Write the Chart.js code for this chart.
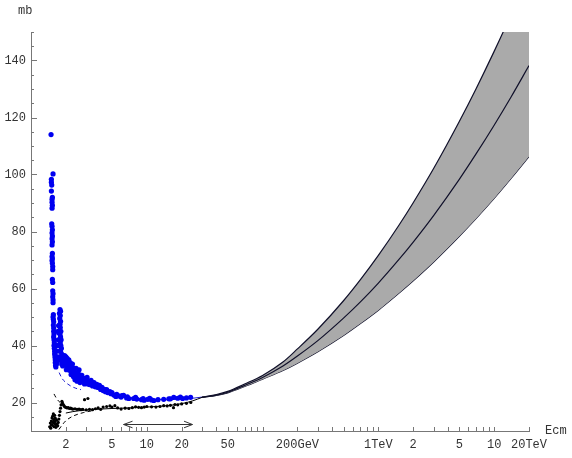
<!DOCTYPE html>
<html><head><meta charset="utf-8">
<script src="https://cdn.jsdelivr.net/npm/chart.js@4.4.1/dist/chart.umd.min.js"></script>
<style>html,body{margin:0;padding:0;background:#fff;}</style>
</head><body>
<canvas id="c" width="572" height="458"></canvas>
<script>
// ---- axis ticks ----
const xTickValues = [1,2,3,4,5,6,7,8,9,10,20,30,40,50,60,70,80,90,100,200,300,400,500,600,700,800,900,1000,2000,3000,4000,5000,6000,7000,8000,9000,10000,20000];
const xLabelValues = [2,5,10,20,50,200,1000,2000,5000,10000,20000];
const xLabelTexts  = ['2','5','10','20','50','200GeV','1TeV','2','5','10','20TeV'];
const yLabelValues = [20,40,60,80,100,120,140];

// ---- p̄p total cross-section data (GeV, mb) ----
const pbarpEnergy = [1.49,1.55,1.50,1.50,1.51,1.50,1.53,1.52,1.52,1.53,1.52,1.51,1.52,1.53,1.52,1.53,1.52,1.53,1.52,1.53,1.52,1.53,1.52,1.53,1.54,1.54,1.53,1.54,1.54,1.55,1.54,1.55,1.55,1.56,1.55,1.56,1.57,1.56,1.57,1.57,1.58,1.57,1.58,1.59,1.58,1.59,1.60,1.60,1.61,1.62,1.62,1.63,1.64,
  1.78,1.80,1.76,1.79,1.77,1.80,1.78,1.79,1.81,1.78,1.80,1.82,1.79,1.81,1.83,1.80,1.84,1.82,1.85,1.87,1.74,1.72,1.70,1.68,1.70,1.69,1.66,1.72,
  1.90,1.93,1.96,2.00,2.03,2.06,2.08,2.10,2.15,2.20,2.25,2.30,2.35,2.40,2.45,2.50,2.55,2.60,2.70,2.80,2.90,3.00,3.10,3.20,3.40,3.60,3.80,4.00,4.20,4.40,4.60,4.90,5.20,5.40,5.70,6.00,6.30,6.70,7.00,7.70,8.20,9.00,9.50,10.2,11.0,11.5,12.5,14.0,15.5,17.1,18.5,20.4,22.0,23.9,
  2.05,2.12,2.18,2.28,2.22,2.33,2.45,2.60,2.75,2.90,3.05,3.30,2.50,2.65,2.40,3.50,3.90,
  1.95,2.00,2.02,2.10,2.15,2.20,2.30,2.35,2.40,2.50,2.55,2.60,2.70,2.80,2.95,3.00,3.15,3.25,3.40,3.70,4.10,4.30,4.50,4.80,5.00,5.50,6.10,6.80,8.00,9.30,10.6,16.0,19.5,1.84,1.88,1.65,1.67,1.71,1.73];
const pbarpSigma = [114,100.2,98.3,97.3,96.3,94.2,92,91.3,90.3,89.2,88.2,82.7,81.8,80.6,79.5,78.4,77.5,76.4,75.3,72.3,71.2,70.5,69.8,68.9,67.7,66.6,63.2,62.1,59.2,58.2,57.1,56,55,50.8,50,49.2,48.3,47.2,46.1,45,44,43,42,41,40,39,38,37,36,35,34,33,32.5,
  52.6,52,51.3,50.5,49.5,48.5,47.5,46.3,45,44,43,42,41,40,39,38,37,36,35,34,44.5,42,40,38,36,34.5,33.5,35,
  35,34.5,33.8,34.4,33,32.5,33.3,32,31.3,31.6,30.5,30.8,30,30.5,29.6,29,28.5,28.8,28.1,27.6,28.4,27,26.5,26.3,25.8,25.5,25.3,24.6,24.2,23.8,23.5,23.1,22.6,22.1,22.3,21.9,22.5,21.6,21.4,21.4,21.2,21.0,20.8,21.1,20.9,20.7,21.0,21.1,21.3,21.8,21.5,21.4,21.6,21.8,
  35.5,35,34,33.5,29.8,29,32,31.5,29.5,26.5,28.8,27.8,27.5,27,28,27,26,
  36.5,36,31.5,34.5,33.2,32.8,32.2,31.2,29.2,30.2,30.5,29.6,29.5,28.6,27.8,28.2,27.2,26.4,27.0,26.4,25.3,24.6,24.5,23.8,23.5,22.9,22.4,22.0,21.8,21.4,21.5,21.3,21.9,33.5,32.8,36,40,45,47];

// ---- pp total cross-section data (GeV, mb) ----
const ppEnergy = [1.45,1.47,1.48,1.50,1.50,1.52,1.53,1.54,1.55,1.56,1.57,1.58,1.59,1.60,1.61,1.62,1.63,1.64,1.66,1.68,1.70,1.72,1.74,1.76,1.78,1.80,1.82,1.85,1.87,1.90,1.93,1.96,2.00,2.05,2.10,2.15,2.20,2.25,2.30,2.40,2.50,2.60,2.70,2.80,2.90,3.10,3.00,3.20,3.40,3.60,3.80,4.00,4.20,4.50,4.80,5.00,5.30,5.60,6.00,6.50,7.00,7.50,8.00,8.50,9.00,9.50,10,11,12,13,14,15,16,17,17.5,18.5,20,22,24];
const ppSigma  = [11.5,12.8,11,12.2,13.5,14.6,12,15.2,13,16,14,11.5,12.7,15.5,13.3,14.5,12.2,11.3,13.8,12.5,11.8,13,14.2,15.5,16.8,18,19.2,20.4,19.8,19.3,18.8,18.5,18.3,18.1,18.2,17.9,18,17.8,17.7,17.8,17.6,17.7,17.5,17.6,21,21.4,17.4,17.6,17.5,17.8,18.1,17.6,18.4,18.6,18.8,18.4,18.9,18.1,17.7,18.0,17.9,18.2,18.5,18.3,18.2,18.4,18.6,18.5,18.4,18.6,18.9,18.8,19,18.2,19.3,19.2,19.5,19.7,20];

// ---- fits at low energy ----
const pbarpFitEnergy = [2.5,3,4,5,7,10,15,20,25,30];
const pbarpFitSigma  = [28.3,26.4,24.2,23.0,21.8,21.2,21.0,21.2,21.5,21.9];
const pbarpDashEnergy = [1.75,1.85,2.0,2.2,2.44,2.7];
const pbarpDashSigma  = [30.5,28.5,27,25.8,25.0,24.5];
const ppFitEnergy = [2.0,2.3,2.7,3.3,4,5,7,10,15,20,25,30];
const ppFitSigma  = [16.3,16.8,17.2,17.5,17.7,17.9,18.1,18.4,18.9,19.6,20.6,21.8];
const ppDashUpperEnergy = [1.58,1.64,1.75,1.89,1.95];
const ppDashUpperSigma  = [23,21.8,20.3,19.2,18.8];
const ppDashLowerEnergy = [1.74,1.85,2.0,2.3,2.86,3.5];
const ppDashLowerSigma  = [10.5,12,13.6,15.2,16.5,17.2];

// ---- high-energy prediction band ----
const bandEnergy  = [30,40,50,70,100,150,200,300,500,700,1000,1500,2000,3000,5000,7000,10000,14000,20000];
const bandUpper   = [21.9,22.8,23.9,26.5,29.5,34.2,38.8,45.7,55.7,63.1,71.6,82.1,90.1,102.1,118.6,130.2,143.2,156.1,170.4];
const bandCentral = [21.8,22.6,23.6,26.0,28.8,32.8,36.3,41.7,49.6,55.3,61.9,70.1,76.3,85.6,98.3,107.3,117.3,127.2,138.2];
const bandLower   = [21.8,22.5,23.4,25.6,28.2,31.2,33.8,37.8,43.5,47.7,52.4,58.3,62.7,69.3,78.3,84.6,91.6,98.6,106.3];

// ---- energy-range arrow ----
const arrowShaftEnergy = [6.30,24.8];
const arrowShaftSigma  = [12.28,12.28];
const arrowLeftEnergy  = [7.53,6.30,7.53];
const arrowRightEnergy = [20.97,24.8,20.97];
const arrowHeadSigma   = [13.44,12.28,11.12];

const pts = (xs, ys) => xs.map((x, i) => ({x, y: ys[i]}));
const MONO = '"Liberation Mono", "DejaVu Sans Mono", monospace';

const lineDs = (data, color, width, dash) => ({
  type: 'line', data, borderColor: color, borderWidth: width, borderDash: dash || [],
  pointRadius: 0, fill: false, cubicInterpolationMode: 'monotone'
});

const datasets = [
  {type:'scatter', data: pts(ppEnergy, ppSigma), backgroundColor:'#000', borderColor:'#000', pointRadius:1.6, pointBorderWidth:0},
  {type:'scatter', data: pts(pbarpEnergy, pbarpSigma), backgroundColor:'#0000f0', borderColor:'#0000f0', pointRadius:2.6, pointBorderWidth:0},
  lineDs(pts(arrowShaftEnergy, arrowShaftSigma), '#333', 1),
  Object.assign(lineDs(pts(arrowLeftEnergy, arrowHeadSigma), '#333', 1), {cubicInterpolationMode:'default', tension:0}),
  Object.assign(lineDs(pts(arrowRightEnergy, arrowHeadSigma), '#333', 1), {cubicInterpolationMode:'default', tension:0}),
  lineDs(pts(ppFitEnergy, ppFitSigma), '#000', 1),
  lineDs(pts(ppDashUpperEnergy, ppDashUpperSigma), '#000', 1, [4,3]),
  lineDs(pts(ppDashLowerEnergy, ppDashLowerSigma), '#000', 1, [4,3]),
  lineDs(pts(pbarpFitEnergy, pbarpFitSigma), '#2020d0', 1),
  lineDs(pts(pbarpDashEnergy, pbarpDashSigma), '#2020d0', 1, [4,3]),
  lineDs(pts(bandEnergy, bandCentral), '#10102a', 1.2),
  Object.assign(lineDs(pts(bandEnergy, bandUpper), '#10102a', 1.2), {fill: {target: 12}, backgroundColor: '#aaaaaa'}),
  lineDs(pts(bandEnergy, bandLower), '#10102a', 1.2)
];

const decorPlugin = {
  id: 'decor',
  afterDraw(chart) {
    const ctx = chart.ctx, area = chart.chartArea;
    const xs = chart.scales.x, ys = chart.scales.y;
    ctx.save();
    ctx.strokeStyle = '#777';
    ctx.lineWidth = 1;
    ctx.beginPath();
    xTickValues.forEach(v => {
      const px = Math.round(xs.getPixelForValue(v)) + 0.5;
      ctx.moveTo(px, area.bottom);
      ctx.lineTo(px, area.bottom - 4);
    });
    ys.ticks.forEach(t => {
      const py = Math.round(ys.getPixelForValue(t.value)) + 0.5;
      const len = yLabelValues.includes(t.value) ? 6 : 3;
      ctx.moveTo(area.left, py);
      ctx.lineTo(area.left + len, py);
    });
    ctx.stroke();
    ctx.fillStyle = '#333';
    ctx.font = '12px ' + MONO;
    ctx.textBaseline = 'middle';
    ctx.textAlign = 'left';
    ctx.fillText('mb', 18, 11);
    ctx.fillText('Ecm', 545, 431);
    ctx.restore();
  }
};

new Chart(document.getElementById('c'), {
  data: { datasets },
  options: {
    responsive: false,
    animation: false,
    events: [],
    layout: { padding: { left: 0, right: 43, top: 32, bottom: 0 } },
    plugins: { legend: { display: false }, tooltip: { enabled: false }, title: { display: false } },
    scales: {
      x: {
        type: 'logarithmic', min: 1, max: 20000,
        border: { display: true, color: '#777', width: 1 },
        grid: { display: false, drawTicks: false },
        afterBuildTicks: (s) => { s.ticks = xTickValues.map(v => ({ value: v })); },
        afterFit: (s) => { s.height = 27; },
        ticks: {
          autoSkip: false, maxRotation: 0, minRotation: 0, padding: 7,
          color: '#333', font: { family: MONO, size: 12 },
          callback: (v) => { const i = xLabelValues.indexOf(v); return i >= 0 ? xLabelTexts[i] : ''; }
        }
      },
      y: {
        type: 'linear', min: 10, max: 150,
        border: { display: true, color: '#777', width: 1 },
        grid: { display: false, drawTicks: false },
        afterFit: (s) => { s.width = 31; },
        ticks: {
          stepSize: 5, autoSkip: false, padding: 5,
          color: '#333', font: { family: MONO, size: 12 },
          callback: (v) => yLabelValues.includes(v) ? String(v) : ''
        }
      }
    }
  },
  plugins: [decorPlugin]
});
</script>
</body></html>
